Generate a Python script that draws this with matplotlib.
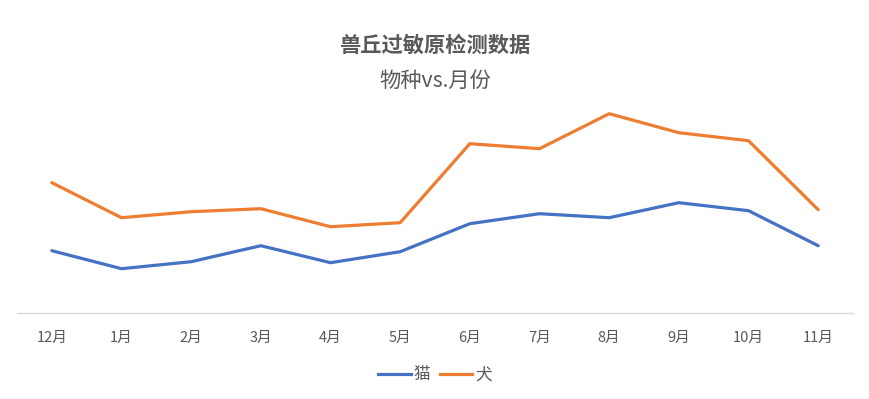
import matplotlib
matplotlib.use("Agg")
import matplotlib.pyplot as plt
from matplotlib.lines import Line2D

plt.rcParams['font.family'] = ['Noto Sans CJK SC', 'DejaVu Sans']

months = ['12月', '1月', '2月', '3月', '4月', '5月', '6月', '7月', '8月', '9月', '10月', '11月']
cat = [62, 44, 51, 67, 50, 61, 89, 99, 95, 110, 102, 67]
dog = [130, 95, 101, 104, 86, 90, 169, 164, 199, 180, 172, 103]
series_names = ['猫', '犬']
colors = ['#4472C4', '#ED7D31']

fig = plt.figure(figsize=(8.7, 3.99), dpi=100)
ax = fig.add_axes([17/870, (399-312.7)/399, (853-17)/870, (312.7-100)/399])
x = list(range(len(months)))
ax.plot(x, cat, color=colors[0], lw=2.3, solid_joinstyle='round', solid_capstyle='round')
ax.plot(x, dog, color=colors[1], lw=2.3, solid_joinstyle='round', solid_capstyle='round')
ax.set_xlim(-0.5, len(months) - 0.5)
ax.set_ylim(0, 212.7)
for s in ['top', 'right', 'left']:
    ax.spines[s].set_visible(False)
ax.spines['bottom'].set_color('#D9D9D9')
ax.spines['bottom'].set_linewidth(1.0)
ax.set_yticks([])
ax.set_xticks(x)
ax.set_xticklabels(months, fontsize=10.5, color='#595959')
ax.tick_params(axis='x', length=0, pad=13)

fig.text(0.5, 1 - 45/399, '兽丘过敏原检测数据', ha='center', va='center',
         fontsize=15.3, fontweight='bold', color='#595959')
fig.text(0.5, 1 - 81/399, '物种vs.月份', ha='center', va='center',
         fontsize=15.3, color='#595959')

handles = [Line2D([], [], color=c, lw=2.3) for c in colors]
fig.legend(handles, series_names, loc='center', bbox_to_anchor=(0.5, 1 - 375/399),
           ncol=2, frameon=False, fontsize=12, labelcolor='#595959',
           handlelength=1.95, handletextpad=0.15, columnspacing=0.6)

fig.savefig('out.png', dpi=100, facecolor='white')
